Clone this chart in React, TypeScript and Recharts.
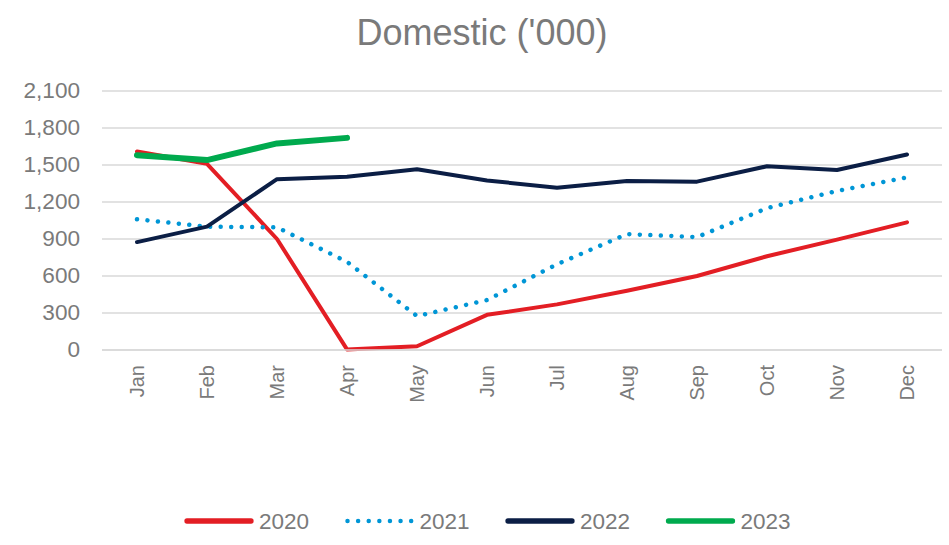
import { CartesianGrid, Legend, Line, LineChart, XAxis, YAxis } from "recharts";

const months = ["Jan", "Feb", "Mar", "Apr", "May", "Jun", "Jul", "Aug", "Sep", "Oct", "Nov", "Dec"];
const y2020 = [1610, 1510, 900, 5, 30, 285, 370, 480, 600, 760, 895, 1035];
const y2021 = [1060, 1000, 995, 715, 275, 405, 695, 940, 915, 1150, 1290, 1400];
const y2022 = [875, 1000, 1385, 1405, 1465, 1375, 1315, 1370, 1365, 1490, 1460, 1585];
const y2023 = [1580, 1540, 1675, 1720];
const yTicks = [0, 300, 600, 900, 1200, 1500, 1800, 2100];

const data = months.map((m, i) => ({
  month: m,
  y2020: y2020[i],
  y2021: y2021[i],
  y2022: y2022[i],
  y2023: y2023[i] ?? null,
}));

const TEXT = "#7a7a7a";
const FONT = "'Liberation Sans', Arial, sans-serif";

const series = [
  { key: "y2020", name: "2020", color: "#E31E24", width: 4, dash: undefined },
  { key: "y2021", name: "2021", color: "#0096D6", width: 4.5, dash: "0.01 10.5" },
  { key: "y2022", name: "2022", color: "#0B1E45", width: 4, dash: undefined },
  { key: "y2023", name: "2023", color: "#00AA4E", width: 6, dash: undefined },
];

function MonthTick({ x, y, payload }: any) {
  return (
    <text
      transform={`translate(${x},${y}) rotate(-90)`}
      textAnchor="end"
      dominantBaseline="central"
      fill={TEXT}
      fontSize={20}
      fontFamily={FONT}
    >
      {payload.value}
    </text>
  );
}

// value labels come out a touch wider than plain Arial in the source
function ValueTick({ x, y, payload }: any) {
  return (
    <text
      transform={`translate(${x},${y}) scale(1.05,1)`}
      textAnchor="end"
      dominantBaseline="central"
      fill={TEXT}
      fontSize={21.5}
      fontFamily={FONT}
    >
      {Number(payload.value).toLocaleString("en-US")}
    </text>
  );
}

function LegendBox() {
  return (
    <svg width={949} height={28} style={{ display: "block" }}>
      {series.map((s, i) => {
        const x0 = 184 + i * 160.5;
        return (
          <g key={s.key}>
            <line
              x1={x0 + 3}
              y1={14}
              x2={x0 + 67}
              y2={14}
              stroke={s.color}
              strokeWidth={s.dash ? 4.5 : 5.3}
              strokeLinecap="round"
              strokeDasharray={s.dash ? "0.01 10.6" : undefined}
            />
            <text x={x0 + 75} y={14} dominantBaseline="central" fontSize={22.5} fontFamily={FONT} fill={TEXT}>
              {s.name}
            </text>
          </g>
        );
      })}
    </svg>
  );
}

export default function App() {
  return (
    <div style={{ position: "absolute", left: 0, top: 0, width: 949, height: 545, background: "#fff" }}>
      <LineChart width={949} height={545} data={data} margin={{ top: 91, right: 7, left: 0, bottom: 135 }}>
        <text x={482} y={45} textAnchor="middle" fontSize={36} fontFamily={FONT} fill={TEXT}>
          Domestic ('000)
        </text>
        <CartesianGrid vertical={false} stroke="#d9d9d9" strokeWidth={1.5} />
        <XAxis
          dataKey="month"
          tick={<MonthTick />}
          tickLine={false}
          axisLine={{ stroke: "#d9d9d9", strokeWidth: 1.5 }}
          height={60}
          tickSize={0}
          tickMargin={15}
          interval={0}
          padding={{ left: 35, right: 35 }}
        />
        <YAxis
          domain={[0, 2100]}
          ticks={yTicks}
          width={102}
          tickLine={false}
          axisLine={false}
          tickMargin={16}
          tick={<ValueTick />}
        />
        {series.map((s) => (
          <Line
            key={s.key}
            dataKey={s.key}
            name={s.name}
            stroke={s.color}
            strokeWidth={s.width}
            strokeDasharray={s.dash}
            strokeLinecap="round"
            strokeLinejoin="round"
            dot={false}
            activeDot={false}
            type="linear"
            isAnimationActive={false}
          />
        ))}
        <Legend
          layout="horizontal"
          verticalAlign="middle"
          align="center"
          wrapperStyle={{ top: 507, left: 0, width: 949 }}
          content={<LegendBox />}
        />
      </LineChart>
    </div>
  );
}
